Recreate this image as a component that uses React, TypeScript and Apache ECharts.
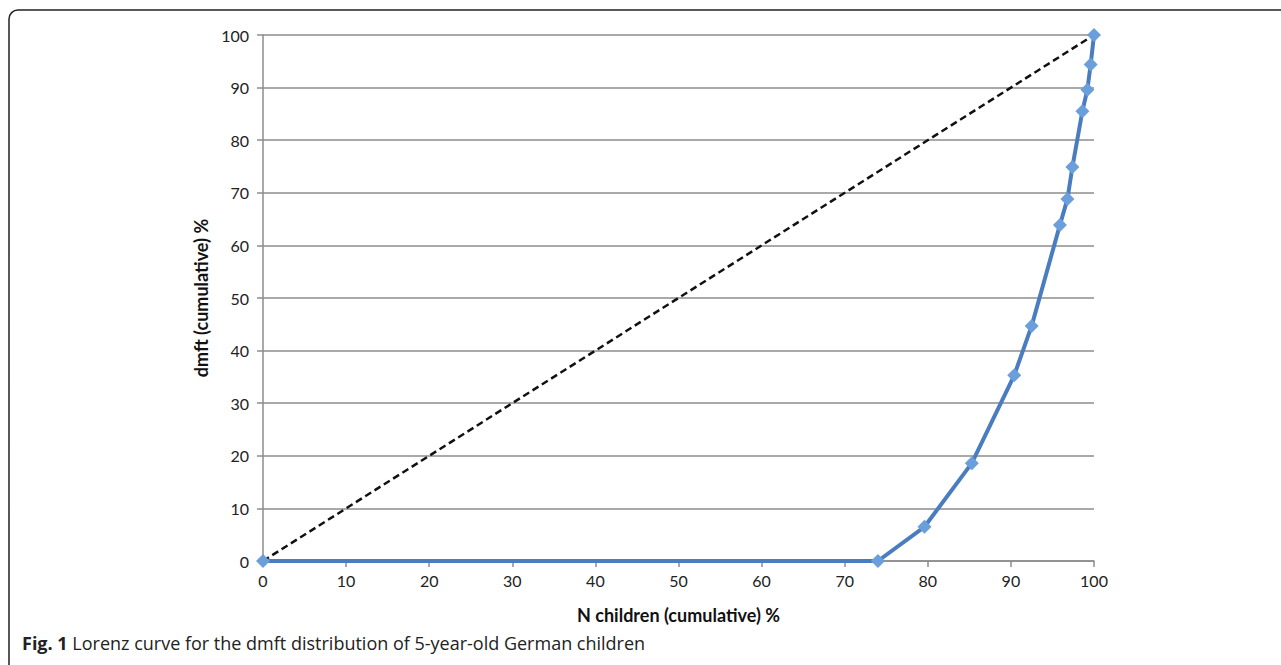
import React, { useEffect, useRef } from "react";
import * as echarts from "echarts";

const lorenzX = [0, 74, 79.6, 85.3, 90.4, 92.5, 95.9, 96.8, 97.4, 98.6, 99.2, 99.6, 100];
const lorenzY = [0, 0, 6.5, 18.6, 35.3, 44.7, 63.9, 68.8, 74.9, 85.5, 89.6, 94.4, 100];
const equalityX = [0, 100];
const equalityY = [0, 100];
const xTicks = [0, 10, 20, 30, 40, 50, 60, 70, 80, 90, 100];
const yTicks = [0, 10, 20, 30, 40, 50, 60, 70, 80, 90, 100];
const xName = "N children (cumulative) %";
const yName = "dmft (cumulative) %";
const captionBold = "Fig. 1";
const captionText = " Lorenz curve for the dmft distribution of 5-year-old German children";

export default function App() {
  const ref = useRef<HTMLDivElement>(null);
  useEffect(() => {
    if (!ref.current) return;
    const chart = echarts.init(ref.current, null, { renderer: "svg" });
    const font = "Lato, 'Open Sans', sans-serif";
    chart.setOption({
      animation: false,
      backgroundColor: "#ffffff",
      grid: { left: 263, right: 187, top: 35, bottom: 104 },
      title: {
        left: 17,
        top: 629,
        text: `{b|${captionBold}}{n|${captionText}}`,
        textStyle: {
          rich: {
            b: { fontFamily: "'Open Sans', sans-serif", fontWeight: "bold", fontSize: 18, color: "#222" },
            n: { fontFamily: "'Open Sans', sans-serif", fontWeight: "normal", fontSize: 18, color: "#222" },
          },
        },
      },
      graphic: [
        {
          type: "rect",
          shape: { x: 9, y: 10, width: 1300, height: 700, r: 9 },
          style: { fill: "none", stroke: "#222", lineWidth: 1.5 },
          silent: true,
        },
      ],
      xAxis: {
        type: "value",
        min: 0,
        max: 100,
        interval: 10,
        name: xName,
        nameLocation: "middle",
        nameGap: 45,
        nameTextStyle: { fontFamily: font, fontWeight: "bold", fontSize: 18, color: "#111" },
        axisLine: { show: true, lineStyle: { color: "#8c8c8c", width: 1.5 } },
        axisTick: { show: true, length: 6, lineStyle: { color: "#8c8c8c", width: 1.5 } },
        axisLabel: { fontFamily: font, fontSize: 16, color: "#222", margin: 11, formatter: (v: number) => (xTicks.includes(v) ? String(v) : "") },
        splitLine: { show: false },
      },
      yAxis: {
        type: "value",
        min: 0,
        max: 100,
        interval: 10,
        name: yName,
        nameLocation: "middle",
        nameGap: 51,
        nameTextStyle: { fontFamily: font, fontWeight: "bold", fontSize: 18, color: "#111" },
        axisLine: { show: true, lineStyle: { color: "#8c8c8c", width: 1.5 } },
        axisTick: { show: true, length: 6, lineStyle: { color: "#8c8c8c", width: 1.5 } },
        axisLabel: { fontFamily: font, fontSize: 16, color: "#222", margin: 14, formatter: (v: number) => (yTicks.includes(v) ? String(v) : "") },
        splitLine: { show: true, lineStyle: { color: "#8c8c8c", width: 1.5 } },
      },
      series: [
        {
          type: "line",
          data: equalityX.map((x, i) => [x, equalityY[i]]),
          showSymbol: false,
          symbol: "none",
          lineStyle: { color: "#111", width: 2.5, type: [7, 4] },
          z: 3,
        },
        {
          type: "line",
          data: lorenzX.map((x, i) => [x, lorenzY[i]]),
          symbol: "diamond",
          symbolSize: 14,
          itemStyle: { color: "#6b9fdb" },
          lineStyle: { color: "#4a7dbf", width: 4 },
          z: 4,
        },
      ],
    });
    return () => chart.dispose();
  }, []);
  return <div ref={ref} style={{ position: "fixed", left: 0, top: 0, width: 1281, height: 665 }} />;
}
